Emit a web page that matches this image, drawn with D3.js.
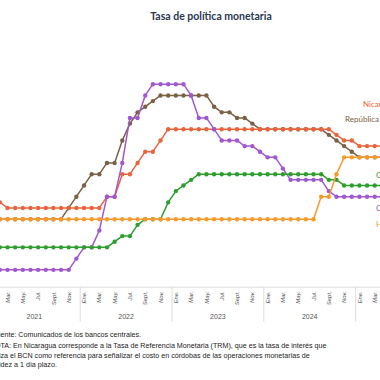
<!DOCTYPE html>
<html>
<head>
<meta charset="utf-8">
<script src="https://cdn.jsdelivr.net/npm/d3@7/dist/d3.min.js"></script>
<style>
  html, body { margin: 0; padding: 0; background: #fff; }
  svg { display: block; }
</style>
</head>
<body>
<svg id="chart" width="380" height="380"></svg>
<script>
// ---------- DATA (monthly, Jan 2021 .. Apr 2025) ----------
const years = [2021, 2022, 2023, 2024, 2025];
const monthNames = ["Ene.","Feb.","Mar.","Abr.","May.","Jun.","Jul.","Ago.","Sept.","Oct.","Nov.","Dic."];
const seriesNames = ["República Dominicana", "Nicaragua", "Costa Rica", "Guatemala", "Honduras"];

const nicaragua = [
  3.75,3.75,3.5,3.5,3.5,3.5,3.5,3.5,3.5,3.5,3.5,3.5,
  3.5,3.5,3.5,4.0,4.0,5.0,5.0,5.5,6.0,6.0,6.5,7.0,
  7.0,7.0,7.0,7.0,7.0,7.0,7.0,7.0,7.0,7.0,7.0,7.0,
  7.0,7.0,7.0,7.0,7.0,7.0,7.0,7.0,7.0,6.75,6.5,6.5,
  6.25,6.25,6.25,6.25
];
const repDominicana = [
  3.0,3.0,3.0,3.0,3.0,3.0,3.0,3.0,3.0,3.0,3.5,4.0,
  4.5,5.0,5.0,5.5,5.5,6.5,7.25,7.75,8.0,8.25,8.5,8.5,
  8.5,8.5,8.5,8.5,8.5,8.0,7.75,7.75,7.5,7.5,7.25,7.0,
  7.0,7.0,7.0,7.0,7.0,7.0,7.0,7.0,6.75,6.5,6.25,6.0,
  5.75,5.75,5.75,5.75
];
const guatemala = [
  1.75,1.75,1.75,1.75,1.75,1.75,1.75,1.75,1.75,1.75,1.75,1.75,
  1.75,1.75,1.75,1.75,2.0,2.25,2.25,2.75,3.0,3.0,3.0,3.75,
  4.25,4.5,4.75,5.0,5.0,5.0,5.0,5.0,5.0,5.0,5.0,5.0,
  5.0,5.0,5.0,5.0,5.0,5.0,5.0,5.0,4.75,4.75,4.5,4.5,
  4.5,4.5,4.5,4.5
];
const costaRica = [
  0.75,0.75,0.75,0.75,0.75,0.75,0.75,0.75,0.75,0.75,0.75,1.25,
  1.75,1.75,2.5,4.0,4.0,5.5,7.5,7.5,8.5,9.0,9.0,9.0,
  9.0,9.0,8.5,7.5,7.5,7.0,6.5,6.5,6.5,6.25,6.25,6.0,
  5.75,5.75,5.25,4.75,4.75,4.75,4.75,4.75,4.25,4.0,4.0,4.0,
  4.0,4.0,4.0,4.0
];
const honduras = [
  3.0,3.0,3.0,3.0,3.0,3.0,3.0,3.0,3.0,3.0,3.0,3.0,
  3.0,3.0,3.0,3.0,3.0,3.0,3.0,3.0,3.0,3.0,3.0,3.0,
  3.0,3.0,3.0,3.0,3.0,3.0,3.0,3.0,3.0,3.0,3.0,3.0,
  3.0,3.0,3.0,3.0,3.0,3.0,3.0,4.0,4.0,5.0,5.75,5.75,
  5.75,5.75,5.75,5.75
];
const titleText = "Tasa de política monetaria";
const sourceText = "Fuente: Comunicados de los bancos centrales.";
const noteLines = [
  "NOTA: En Nicaragua corresponde a la Tasa de Referencia Monetaria (TRM), que es la tasa de interés que",
  "utiliza el BCN como referencia para señalizar el costo en córdobas de las operaciones monetarias de",
  "liquidez a 1 día plazo."
];

// ---------- STYLE / LAYOUT ----------
const colors = {
  "Nicaragua": "#E8643C",
  "República Dominicana": "#7A6144",
  "Guatemala": "#2E9E2E",
  "Costa Rica": "#A057D0",
  "Honduras": "#F79A2A"
};
const valuesBy = {
  "Nicaragua": nicaragua,
  "República Dominicana": repDominicana,
  "Guatemala": guatemala,
  "Costa Rica": costaRica,
  "Honduras": honduras
};
const labelPos = {
  "Nicaragua": [363, 107],
  "República Dominicana": [345, 122],
  "Guatemala": [376, 178],
  "Costa Rica": [376, 211],
  "Honduras": [376, 227]
};

const svg = d3.select("#chart");
const allMonths = [];
years.forEach(y => monthNames.forEach((m, i) => allMonths.push({key: y + "-" + i, y, i})));
const keys = allMonths.map(d => d.key);

const monthW = 7.65;
const x0 = -11.6;
const x = d3.scaleBand().domain(keys).range([x0, x0 + keys.length * monthW]).paddingInner(0).paddingOuter(0);
const cx = k => x(k) + x.bandwidth() / 2;
const y = d3.scaleLinear().domain([0, 10]).range([286.7, 61.7]);

// Title
svg.append("text")
  .attr("x", 211).attr("y", 19.5)
  .attr("text-anchor", "middle")
  .attr("font-family", "Lato, 'Open Sans', sans-serif")
  .attr("font-weight", "bold")
  .attr("font-size", 10.5)
  .attr("fill", "#2a3852")
  .text(titleText);

// Axis
const tickKeys = allMonths.filter(d => d.i % 2 === 0).map(d => d.key);
const axis = d3.axisBottom(x)
  .tickValues(tickKeys)
  .tickSize(0)
  .tickSizeOuter(0)
  .tickFormat(k => monthNames[+k.split("-")[1]]);
const gAxis = svg.append("g").attr("transform", `translate(0,${y(0)})`).call(axis);
gAxis.select(".domain").attr("stroke", "#dcdcdc").attr("stroke-width", 1);
gAxis.selectAll(".tick text")
  .attr("transform", "rotate(-90)")
  .attr("x", -4.5).attr("y", 0).attr("dy", "0.35em")
  .style("text-anchor", "end")
  .attr("font-family", "'Liberation Sans', Arial, sans-serif")
  .attr("font-style", "italic")
  .attr("font-size", 6)
  .attr("fill", "#555");

// Year separators & labels
years.forEach(yr => {
  const xs = x(yr + "-0");
  svg.append("line")
    .attr("x1", xs).attr("x2", xs)
    .attr("y1", y(0)).attr("y2", 321.7)
    .attr("stroke", "#dcdcdc").attr("stroke-width", 1);
  svg.append("text")
    .attr("x", xs + 6 * monthW).attr("y", 318.5)
    .attr("text-anchor", "middle")
    .attr("font-family", "'Liberation Sans', Arial, sans-serif")
    .attr("font-size", 7)
    .attr("fill", "#555")
    .text(yr);
});

// Lines
const dataMonths = keys.slice(0, nicaragua.length);
const line = d3.line().x(d => cx(d.k)).y(d => y(d.v));
seriesNames.forEach(name => {
  const pts = valuesBy[name].map((v, i) => ({k: dataMonths[i], v}));
  const g = svg.append("g");
  g.append("path")
    .datum(pts)
    .attr("d", line)
    .attr("fill", "none")
    .attr("stroke", colors[name])
    .attr("stroke-width", 1.5)
    .attr("stroke-linejoin", "round");
  g.selectAll("circle")
    .data(pts)
    .join("circle")
    .attr("cx", d => cx(d.k))
    .attr("cy", d => y(d.v))
    .attr("r", 2.2)
    .attr("fill", colors[name]);
});

// Series labels
Object.keys(labelPos).forEach(name => {
  svg.append("text")
    .attr("x", labelPos[name][0]).attr("y", labelPos[name][1])
    .attr("font-family", "Lato, 'Open Sans', sans-serif")
    .attr("font-size", 8)
    .attr("fill", colors[name])
    .text(name);
});

// Footnotes (left part is cut off in the reference)
const noteFont = "'Liberation Sans', Arial, sans-serif";
const noteSize = 7.15;
function cutText(txt, cut, yb) {
  const t = svg.append("text")
    .attr("y", yb)
    .attr("font-family", noteFont)
    .attr("font-size", noteSize)
    .attr("fill", "#222")
    .text(txt);
  const probe = svg.append("text")
    .attr("font-family", noteFont).attr("font-size", noteSize)
    .text(txt.slice(0, cut));
  const w = probe.node().getComputedTextLength();
  probe.remove();
  t.attr("x", -w + 0.5);
}
cutText(sourceText, 2, 337.2);
cutText(noteLines[0], 2, 348.2);
cutText(noteLines[1], 5, 357.7);
cutText(noteLines[2], 5, 367.2);
</script>
</body>
</html>
